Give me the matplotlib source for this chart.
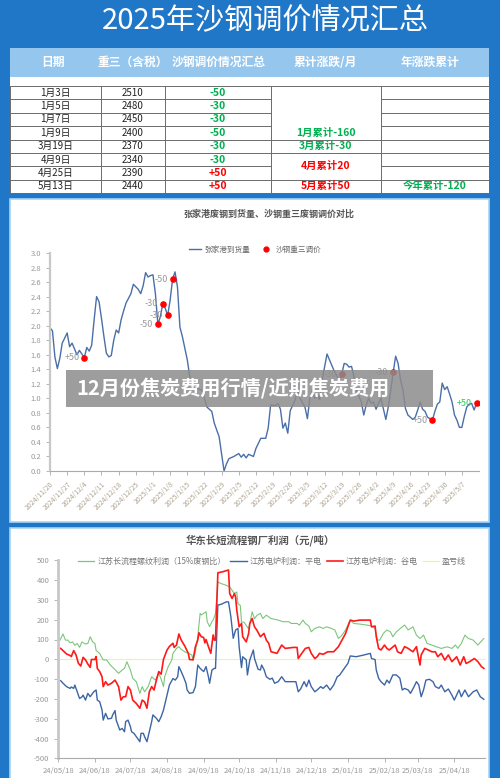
import matplotlib
matplotlib.use('Agg')
import matplotlib.pyplot as plt
from matplotlib.patches import Rectangle
from matplotlib.lines import Line2D
import pandas as pd

plt.rcParams['font.family'] = ['Noto Sans CJK SC', 'DejaVu Sans']
plt.rcParams['axes.unicode_minus'] = False

W, H = 500, 778
BLUE = '#2177c7'
GREEN_TXT = '#00b050'
RED_TXT = '#ff0000'

# ---- table data ----
tbl_headers = ['日期', '重三（含税）', '沙钢调价情况汇总', '累计涨跌/月', '年涨跌累计']
tbl_dates = ['1月3日', '1月5日', '1月7日', '1月9日', '3月19日', '4月9日', '4月25日', '5月13日']
tbl_prices = [2510, 2480, 2450, 2400, 2370, 2340, 2390, 2440]
tbl_changes = [-50, -30, -30, -50, -30, -30, 50, 50]
month_labels = ['1月累计-160', '3月累计-30', '4月累计20', '5月累计50']
month_rows = [3, 4, 5.5, 7]
month_values = [-160, -30, 20, 50]
year_label = '今年累计-120'

# ---- middle chart: arrivals (days from 2024-11-20) ----
mid_start = pd.Timestamp('2024-11-20')
arr_days = [0, 1, 2, 3, 4, 5, 7, 8, 9, 11, 12, 14, 15, 16, 17, 18, 19, 20, 21, 22,
            23, 24, 25, 26, 27, 28, 29, 30, 31, 33, 34, 36, 37, 38, 39, 40, 41, 42, 43, 44,
            45, 46, 47, 48, 49, 50, 51, 52, 53, 54, 56, 57, 59, 60, 62, 63, 64, 66, 67, 69,
            70, 71, 72, 73, 75, 77, 78, 79, 80, 81, 83, 84, 86, 88, 89, 90, 92, 93, 94, 95,
            96, 97, 98, 100, 101, 102, 104, 105, 106, 107, 108, 109, 110, 111, 113, 114, 115, 116, 118, 119,
            120, 121, 122, 123, 124, 125, 127, 128, 129, 130, 131, 132, 133, 134, 135, 137, 138, 139, 140, 141,
            142, 143, 144, 145, 146, 148, 149, 150, 151, 152, 153, 154, 156, 157, 158, 159, 160, 161, 162, 163,
            164, 165, 166, 167, 168, 169, 170, 171, 172, 173, 174]
arr_vals = [1.97, 1.93, 1.57, 1.41, 1.55, 1.76, 1.90, 1.71, 1.76, 1.60, 1.66, 1.56, 1.70, 1.65, 1.73, 2.08, 2.40, 2.33, 2.10, 1.85,
            1.62, 1.57, 1.59, 1.80, 1.94, 1.90, 2.08, 2.20, 2.31, 2.44, 2.57, 2.50, 2.44, 2.55, 2.73, 2.67, 2.69, 2.70, 2.44, 2.02,
            2.12, 2.30, 2.24, 2.14, 2.35, 2.64, 2.74, 2.53, 1.98, 1.85, 1.53, 1.30, 1.11, 1.14, 1.11, 1.00, 0.88, 0.82, 0.66, 0.47,
            0.24, 0.00, 0.10, 0.17, 0.20, 0.24, 0.19, 0.23, 0.18, 0.23, 0.20, 0.31, 0.45, 0.45, 0.59, 0.91, 0.90, 0.93, 0.85, 0.59,
            0.66, 0.52, 0.83, 0.98, 1.11, 1.00, 0.88, 0.72, 1.00, 1.11, 1.00, 1.05, 0.98, 1.25, 1.61, 1.53, 1.45, 1.37, 1.25, 1.33,
            1.48, 1.47, 1.43, 1.44, 1.30, 1.11, 0.95, 0.77, 0.91, 1.00, 0.93, 0.95, 0.85, 0.93, 1.00, 0.71, 0.88, 1.11, 1.36, 1.58,
            1.48, 1.25, 1.11, 0.86, 0.77, 0.71, 0.74, 0.84, 0.95, 0.85, 0.82, 0.74, 0.70, 0.82, 0.92, 0.95, 1.21, 1.12, 1.16, 1.06,
            0.95, 0.77, 0.70, 0.60, 0.60, 0.75, 0.88, 0.92, 0.93, 0.84, 0.93]
adj_days = [14, 44, 46, 48, 50, 119, 140, 156, 174]
adj_vals = [1.56, 2.02, 2.30, 2.14, 2.64, 1.33, 1.36, 0.70, 0.93]
adj_labels = ['+50', '-50', '-30', '-30', '-50', '-30', '-30', '+50', '+50']

# ---- bottom chart: profits (days from 2024-05-18) ----
bot_start = pd.Timestamp('2024-05-18')
green_days = [1, 4, 6, 8, 10, 12, 14, 16, 18, 20, 23, 25, 27, 29, 31, 32, 35, 38, 41, 44,
              47, 51, 54, 56, 58, 61, 63, 66, 69, 71, 73, 76, 79, 82, 85, 87, 89, 90, 93, 96,
              97, 100, 102, 104, 107, 110, 113, 114, 116, 118, 120, 121, 123, 125, 126, 128, 130, 131, 133, 135,
              138, 142, 145, 148, 149, 151, 152, 154, 155, 157, 159, 161, 162, 164, 166, 168, 171, 173, 176, 180,
              186, 190, 195, 197, 202, 204, 207, 209, 212, 214, 217, 221, 224, 227, 231, 234, 237, 240, 243, 247,
              250, 255, 261, 265, 268, 270, 272, 275, 278, 281, 283, 286, 291, 293, 296, 300, 303, 306, 309, 312,
              316, 320, 324, 329, 333, 336, 338, 341, 344, 347, 351, 355, 360]
green_vals = [92, 128, 97, 97, 83, 88, 71, 80, 60, 88, 77, 80, 114, 88, 80, 44, 30, -3, -4, -29,
              -46, -71, -54, -46, -12, -54, -96, -113, -172, -138, -164, -138, -88, -105, -71, -100, -138, -88, -37, -4,
              30, 55, 64, 50, 38, 30, 22, -4, 38, 114, 232, 224, 232, 240, 190, 165, 190, 198, 230, 390,
              382, 374, 365, 340, 332, 340, 281, 272, 188, 188, 171, 154, 180, 240, 205, 222, 232, 206, 223, 206,
              198, 190, 190, 181, 181, 173, 198, 181, 168, 139, 156, 164, 156, 164, 156, 148, 105, 122, 148, 198,
              181, 178, 173, 168, 156, 97, 97, 131, 148, 139, 114, 139, 164, 173, 148, 164, 122, 105, 122, 80,
              72, 63, 55, 63, 55, 72, 55, 80, 122, 105, 97, 72, 105]
red_days = [2, 4, 7, 10, 11, 13, 15, 17, 19, 21, 23, 25, 27, 28, 31, 32, 33, 35, 37, 38,
            40, 42, 45, 48, 51, 53, 55, 57, 59, 61, 63, 66, 69, 71, 73, 75, 77, 79, 81, 83,
            85, 87, 89, 92, 94, 97, 98, 100, 102, 104, 107, 110, 111, 114, 116, 118, 119, 121, 123, 124,
            125, 127, 129, 131, 132, 133, 135, 139, 144, 145, 147, 149, 150, 151, 153, 155, 156, 159, 161, 162,
            164, 166, 168, 171, 174, 176, 178, 180, 185, 189, 192, 199, 202, 203, 206, 209, 212, 214, 217, 219,
            221, 224, 228, 233, 237, 240, 243, 244, 247, 250, 255, 264, 265, 268, 269, 271, 273, 276, 278, 280,
            285, 287, 290, 293, 296, 300, 303, 306, 307, 310, 313, 316, 319, 321, 324, 327, 330, 333, 337, 340,
            343, 345, 348, 352, 355, 358, 360]
red_vals = [55, 44, 27, 19, 14, 44, 22, -20, -34, 10, -3, -24, -41, -1, -1, 14, -46, -62, -88, -138,
            -113, -130, -121, -105, -138, -206, -189, -189, -138, -155, -206, -223, -247, -206, -215, -247, -164, -138, -155, -105,
            -62, -75, 0, 47, 65, 81, 60, 72, 128, 97, 67, 30, -1, -3, 64, 97, 134, 114, 110, 83,
            100, 64, 30, 123, 97, 97, 437, 442, 451, 332, 307, 332, 315, 248, 164, 181, 114, 88, 130, 181,
            206, 164, 147, 114, 131, 97, 81, 38, 30, 72, 55, 60, 60, 4, 30, 55, 60, 30, 4, 13,
            30, 25, 38, 38, 64, 97, 130, 148, 198, 193, 198, 198, 164, 168, 114, 55, 47, 72, 55, 47,
            72, 38, 30, 64, 55, 38, 64, -29, 22, 55, 47, 38, 38, 13, 30, -4, 22, -12, 13, -29,
            13, -21, -12, 4, -12, -37, -46]
blue_days = [2, 4, 7, 10, 11, 13, 14, 16, 18, 20, 21, 23, 25, 27, 30, 32, 33, 35, 37, 38,
             40, 42, 45, 46, 48, 49, 52, 54, 56, 57, 59, 61, 62, 64, 66, 69, 70, 72, 73, 75,
             77, 79, 80, 83, 85, 87, 89, 90, 92, 94, 97, 99, 101, 102, 104, 106, 108, 109, 111, 114,
             116, 118, 120, 123, 125, 127, 128, 130, 132, 133, 135, 138, 142, 144, 146, 148, 150, 152, 153, 155,
             156, 159, 160, 162, 165, 166, 169, 171, 172, 174, 176, 179, 181, 183, 186, 189, 192, 196, 199, 201,
             203, 205, 208, 210, 212, 214, 217, 219, 222, 224, 227, 230, 233, 236, 238, 243, 245, 247, 252, 258,
             264, 265, 268, 269, 271, 273, 276, 278, 280, 283, 286, 289, 291, 293, 296, 298, 301, 303, 305, 307,
             309, 311, 314, 317, 319, 322, 324, 327, 330, 333, 335, 337, 339, 341, 344, 347, 351, 354, 357, 360]
blue_vals = [-108, -121, -138, -147, -140, -147, -130, -164, -198, -190, -181, -206, -172, -189, -164, -155, -206, -214, -256, -307,
             -273, -301, -298, -281, -259, -307, -357, -349, -366, -315, -307, -340, -366, -374, -391, -416, -374, -374, -391, -416,
             -366, -315, -281, -298, -315, -290, -256, -231, -181, -130, -97, -105, -88, -37, -62, -90, -121, -155, -172, -168,
             -138, -29, -46, -62, -37, -88, -121, -54, -46, -46, 274, 278, 290, 290, 215, 106, 148, 156, 63, -42,
             13, -3, -79, -4, 47, 4, -50, -54, -29, -51, -88, -101, -95, -121, -113, -88, -113, -113, -113, -113,
             -164, -150, -113, -138, -105, -138, -164, -155, -138, -147, -130, -155, -130, -88, -80, -37, -21, 17, 13, 21,
             30, 4, -1, -54, -96, -113, -130, -105, -120, -79, -79, -96, -155, -147, -155, -172, -138, -113, -130, -189,
             -155, -105, -101, -113, -138, -147, -130, -164, -150, -181, -206, -181, -155, -189, -155, -189, -164, -155, -189, -202]
legend_bottom = ['江苏长流程螺纹利润（15%废钢比）', '江苏电炉利润：平电', '江苏电炉利润：谷电', '盈亏线']


def to_dates(start, days):
    return start + pd.to_timedelta(days, unit='D')


fig = plt.figure(figsize=(5, 7.78), dpi=100, facecolor=BLUE)

# background / layout layer in pixel coordinates
bg = fig.add_axes([0, 0, 1, 1], zorder=0)
bg.set_xlim(0, W)
bg.set_ylim(H, 0)
bg.axis('off')

bg.text(265, 21, '2025年沙钢调价情况汇总', color='white', fontsize=21,
        ha='center', va='center')

# table
col_x = [10, 101, 165, 271, 381, 489]
row_top = 86
row_h = 13.375
n_rows = len(tbl_dates)
bg.add_patch(Rectangle((10, 48), 479, 28.5, fc='#94c6ee', ec='none'))
bg.add_patch(Rectangle((10, 76.5), 479, row_top - 76.5 + n_rows * row_h, fc='white', ec='none'))
hdr_cx = [53, 133, 219, 325, 430]
for cx, txt in zip(hdr_cx, tbl_headers):
    bg.text(cx, 62.5, txt, color='white', fontsize=8.5, weight='bold', ha='center', va='center')

line_kw = dict(color='#6b6b6b', lw=0.7)
y_bot = row_top + n_rows * row_h
for x in col_x:
    bg.plot([x, x], [row_top, y_bot], **line_kw)
bg.plot([col_x[0], col_x[-1]], [row_top, row_top], **line_kw)
bg.plot([col_x[0], col_x[-1]], [y_bot, y_bot], **line_kw)
for i in range(1, n_rows):
    y = row_top + i * row_h
    bg.plot([col_x[0], col_x[3]], [y, y], **line_kw)
    bg.plot([col_x[4], col_x[5]], [y, y], **line_kw)
for i in [4, 5, 7]:
    y = row_top + i * row_h
    bg.plot([col_x[3], col_x[4]], [y, y], **line_kw)

for i in range(n_rows):
    yc = row_top + (i + 0.5) * row_h
    bg.text((col_x[0] + col_x[1]) / 2, yc, tbl_dates[i], fontsize=7, color='#222222', ha='center', va='center')
    bg.text((col_x[1] + col_x[2]) / 2, yc, str(tbl_prices[i]), fontsize=7, color='#222222', ha='center', va='center')
    ch = tbl_changes[i]
    bg.text((col_x[2] + col_x[3]) / 2, yc, f'{ch:+d}', fontsize=7.5, weight='bold',
            color=GREEN_TXT if ch < 0 else RED_TXT, ha='center', va='center')
for lbl, r, v in zip(month_labels, month_rows, month_values):
    yc = row_top + (r + 0.5) * row_h
    bg.text((col_x[3] + col_x[4]) / 2, yc, lbl, fontsize=7.5, weight='bold',
            color=GREEN_TXT if v < 0 else RED_TXT, ha='center', va='center')
bg.text((col_x[4] + col_x[5]) / 2, row_top + 7.5 * row_h, year_label, fontsize=7.5, weight='bold',
        color=GREEN_TXT, ha='center', va='center')

# panels
bg.add_patch(Rectangle((10, 198.5), 479, 323.5, fc='white', ec='#a8d4f4', lw=1.2))
bg.add_patch(Rectangle((10, 527.5), 479, 260, fc='white', ec='#a8d4f4', lw=1.2))

# ---- middle chart ----
ax1 = fig.add_axes([50 / W, 1 - 471 / H, 429 / W, 218 / H], zorder=1)
ax1.patch.set_alpha(0)
arr_x = to_dates(mid_start, arr_days)
adj_x = to_dates(mid_start, adj_days)
ax1.plot(arr_x, arr_vals, color='#4a6fa8', lw=1.0)
ax1.scatter(adj_x, adj_vals, color='#ff0000', s=14, zorder=3)
for x, y, lbl in zip(adj_x, adj_vals, adj_labels):
    c = '#22cc55' if x == adj_x[-1] else '#999999'
    ax1.annotate(lbl, (x, y), xytext=(-3.5, 0), textcoords='offset points',
                 ha='right', va='center', fontsize=6.5, color=c)
ax1.set_ylim(0, 3.0)
ax1.set_yticks([i / 10 for i in range(0, 31, 2)])
ax1.set_yticklabels([f'{i / 10:.1f}' for i in range(0, 31, 2)])
ax1.set_xlim(mid_start, mid_start + pd.Timedelta(days=175))
wk = pd.date_range('2024-11-20', '2025-05-07', freq='7D')
ax1.set_xticks(wk)
ax1.set_xticklabels([f'{d.year}/{d.month}/{d.day}' for d in wk], rotation=45, ha='right',
                    rotation_mode='anchor')
for s in ['top', 'right']:
    ax1.spines[s].set_visible(False)
ax1.spines['left'].set_color('#c8c8c8')
ax1.spines['left'].set_linewidth(1.6)
ax1.spines['bottom'].set_color('#aaaaaa')
ax1.tick_params(axis='y', colors='#aaaaaa', labelcolor='#999999', labelsize=5.5, length=3, width=0.6)
ax1.tick_params(axis='x', colors='#aaaaaa', labelcolor='#b0a392', labelsize=5, length=3, width=0.6)
fig.text(269 / W, 1 - 214 / H, '张家港废钢到货量、沙钢重三废钢调价对比', fontsize=6.5,
         color='#555555', ha='center', va='center', weight='bold')
h1 = [Line2D([], [], color='#4a6fa8', lw=1.0),
      Line2D([], [], color='#ff0000', marker='o', ls='none', markersize=3.5)]
ax1.legend(h1, ['张家港到货量', '沙钢重三调价'], loc='center', bbox_to_anchor=(255 / W, 1 - 250 / H),
           bbox_transform=fig.transFigure, ncol=2, frameon=False, fontsize=5.5, handlelength=1.6,
           columnspacing=1.2, handletextpad=0.5, labelcolor='#666666')

# ---- bottom chart ----
ax2 = fig.add_axes([58.3 / W, 1 - 758.3 / H, 426.7 / W, 198 / H], zorder=1)
ax2.patch.set_alpha(0)
ax2.axhline(0, color='#f4f0a0', lw=0.8)
ax2.plot(to_dates(bot_start, green_days), green_vals, color='#7cc67c', lw=0.8)
ax2.plot(to_dates(bot_start, blue_days), blue_vals, color='#3d65a3', lw=1.0)
ax2.plot(to_dates(bot_start, red_days), red_vals, color='#ff1a1a', lw=1.2)
ax2.set_ylim(-500, 500)
ax2.set_yticks(range(-500, 501, 100))
ax2.set_xlim(bot_start, bot_start + pd.Timedelta(days=361))
mo = pd.date_range('2024-05-18', periods=12, freq=pd.DateOffset(months=1))
ax2.set_xticks(mo)
ax2.set_xticklabels([d.strftime('%y/%m/%d') for d in mo])
for s in ['top', 'right']:
    ax2.spines[s].set_visible(False)
ax2.spines['left'].set_color('#c8c8c8')
ax2.spines['left'].set_linewidth(2)
ax2.spines['bottom'].set_color('#aaaaaa')
ax2.tick_params(axis='both', colors='#aaaaaa', labelcolor='#999999', labelsize=5.5, length=3, width=0.6)
fig.text(260 / W, 1 - 540 / H, '华东长短流程钢厂利润（元/吨）', fontsize=7.5,
         color='#555555', ha='center', va='center', weight='bold')
h2 = [Line2D([], [], color='#7cc67c', lw=0.9), Line2D([], [], color='#3d65a3', lw=1.0),
      Line2D([], [], color='#ff1a1a', lw=1.2), Line2D([], [], color='#f4f0a0', lw=0.9)]
ax2.legend(h2, legend_bottom, loc='center', bbox_to_anchor=(272 / W, 1 - 561 / H),
           bbox_transform=fig.transFigure, ncol=4, frameon=False, fontsize=5.8, handlelength=2.0,
           columnspacing=0.6, handletextpad=0.4, labelcolor='#777777')

# ---- overlay banner ----
top = fig.add_axes([0, 0, 1, 1], zorder=5)
top.set_xlim(0, W)
top.set_ylim(H, 0)
top.axis('off')
top.add_patch(Rectangle((66, 370), 367, 37, fc='#8c8c8c', ec='none', alpha=0.85))
top.text(76, 389, '12月份焦炭费用行情/近期焦炭费用', color='white', fontsize=14.5,
         weight='bold', ha='left', va='center')

fig.savefig('out.png', dpi=100, facecolor=BLUE)
